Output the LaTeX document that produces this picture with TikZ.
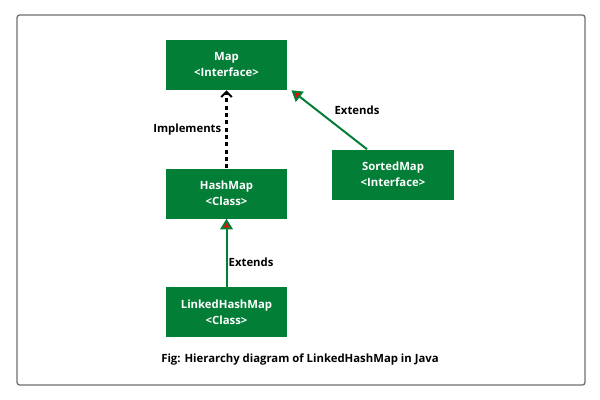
\documentclass[tikz,border=0pt]{standalone}
\usepackage{fontspec}
\setmainfont{Open Sans}
\usetikzlibrary{arrows.meta, positioning}
\definecolor{boxgreen}{RGB}{3,126,55}
\definecolor{framegray}{RGB}{110,110,110}

\begin{document}
\begin{tikzpicture}[x=0.75pt, y=-0.75pt,
  box/.style={fill=boxgreen, text=white, font=\bfseries\fontsize{8.5}{12}\selectfont,
    minimum width=91pt, minimum height=37.5pt, align=center, inner sep=0pt},
  extends/.style={draw=boxgreen, line width=1.5pt,
    -{Triangle[length=8pt, width=9.5pt, fill=red]}},
  implements/.style={draw=black, line width=2pt, dash pattern=on 3pt off 2.5pt,
    -{Straight Barb[length=4pt, width=8pt, line width=1.5pt]}},
  lbl/.style={font=\bfseries\fontsize{8.5}{11}\selectfont}]
\useasboundingbox (0,0) rectangle (600,400);
\draw[framegray, line width=1pt, rounded corners=2pt] (17,15) rectangle (585,385);

\node[box] (map) at (226.5,65) {Map\\<Interface>};
\node[box] (hashmap) at (226.5,193.5) {HashMap\\<Class>};
\node[box] (linked) at (226.5,312) {LinkedHashMap\\<Class>};
\node[box] (sorted) at (393,174.5) {SortedMap\\<Interface>};

\draw[implements] (hashmap.north) -- (map.south);
\draw[extends] (linked.north) -- (hashmap.south);
\draw[extends] ([xshift=-19.5pt]sorted.north) -- ([xshift=3pt]map.south east);

\node[lbl, anchor=east] (impl) at (226,130) {Implements};
\node[lbl] (ext1) at (357,110) {Extends};
\node[lbl, anchor=west] (ext2) at (224,262) {Extends};

\node[lbl] (caption) at (300,360) {Fig: Hierarchy diagram of LinkedHashMap in Java};
\end{tikzpicture}
\end{document}
